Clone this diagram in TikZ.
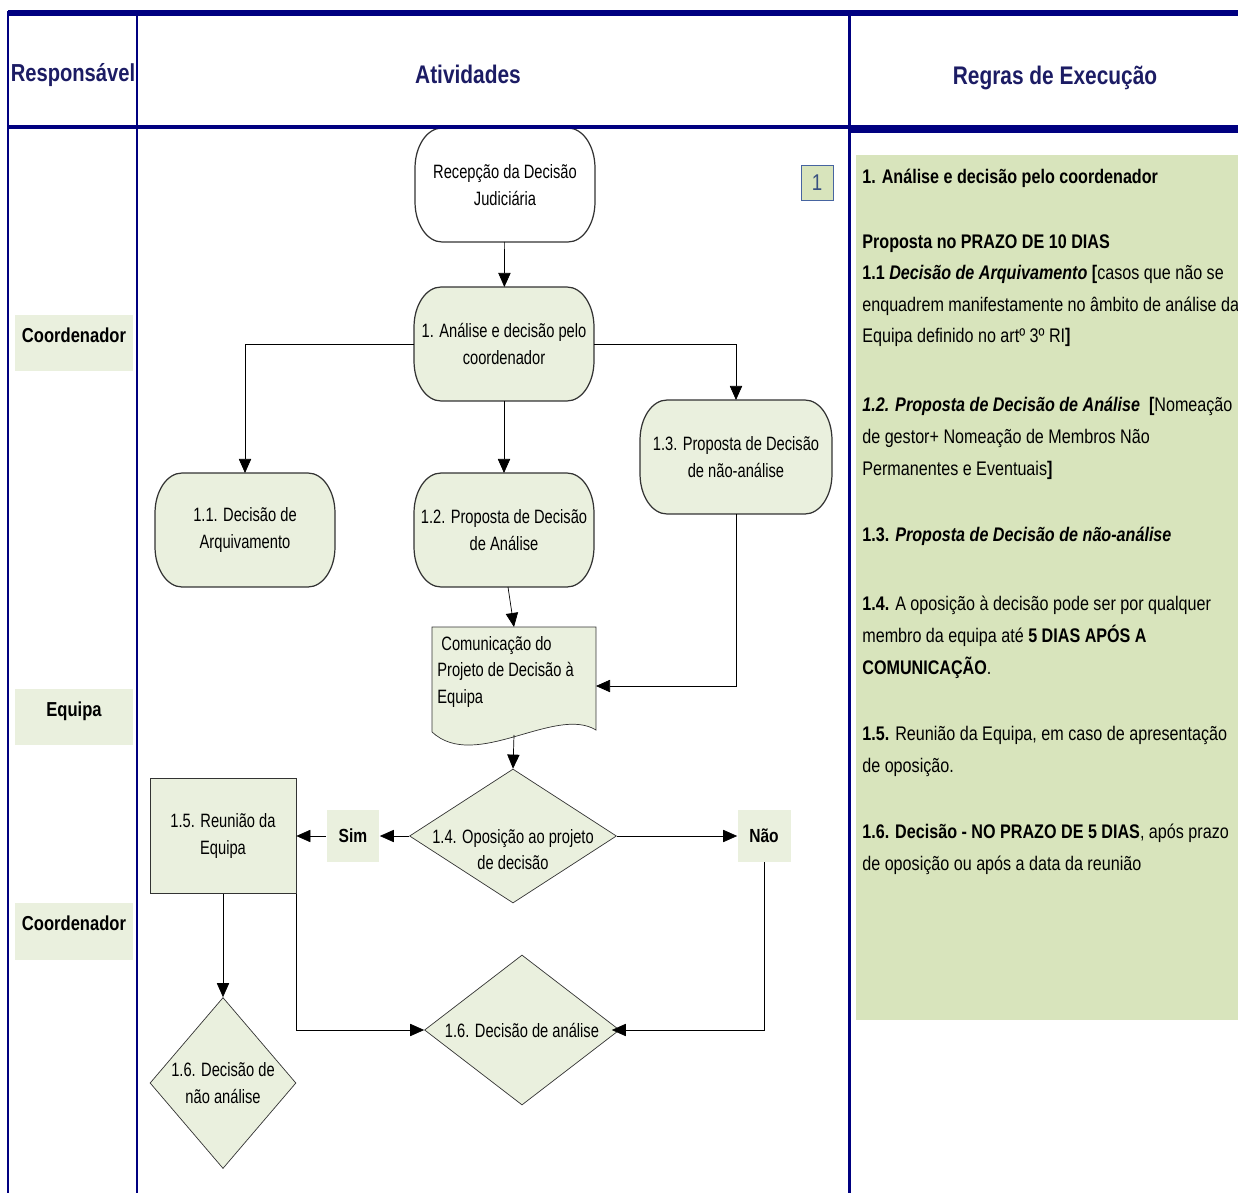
\documentclass[tikz,border=0pt]{standalone}
\usepackage{fontspec}
\setmainfont{Liberation Sans}[FakeStretch=0.82]
\newfontfamily\narrowfont{Liberation Sans}[FakeStretch=0.76]
\usepackage{tikz}
\usetikzlibrary{arrows.meta,shapes,shapes.geometric,backgrounds}
\usepackage{xcolor}
\definecolor{navy}{RGB}{0,0,128}
\definecolor{headtext}{RGB}{28,28,100}
\definecolor{nodegreen}{RGB}{234,240,222}
\definecolor{panelgreen}{RGB}{216,228,188}
\definecolor{boxblue}{RGB}{70,100,160}
\newcommand{\termshape}[2]{%
  \begin{pgfonlayer}{background}
  \draw[draw=black!80, fill=#2, line width=0.7pt] ([xshift=0.54cm]#1.north west) -- ([xshift=-0.54cm]#1.north east)
    arc[start angle=90, end angle=0, x radius=0.54cm, y radius=0.8cm] -- ([yshift=0.8cm]#1.south east)
    arc[start angle=0, end angle=-90, x radius=0.54cm, y radius=0.8cm] -- ([xshift=0.54cm]#1.south west)
    arc[start angle=270, end angle=180, x radius=0.54cm, y radius=0.8cm] -- ([yshift=-0.8cm]#1.north west)
    arc[start angle=180, end angle=90, x radius=0.54cm, y radius=0.8cm] -- cycle;
  \end{pgfonlayer}}

\begin{document}
\begin{tikzpicture}[x=0.02cm, y=-0.02cm, >={Triangle[length=8pt,width=7pt]}, line width=0.7pt,
  every node/.style={font=\narrowfont\fontsize{11}{15}\selectfont},
  term node/.style={rectangle, minimum width=3.6cm, minimum height=2.28cm, inner sep=1pt, outer sep=0pt, align=center},
  dec node/.style={diamond, draw=black!80, fill=nodegreen, inner sep=0pt},
  lane/.style={fill=nodegreen, minimum width=2.36cm, minimum height=1.14cm, text height=0.3cm, text depth=0.34cm, font=\fontsize{11.5}{13}\selectfont\bfseries},
  answer/.style={fill=nodegreen, minimum width=1.06cm, minimum height=1.04cm, font=\fontsize{10.8}{13}\selectfont\bfseries},
  head/.style={text=headtext, font=\fontsize{14.5}{16}\selectfont\bfseries},
  rule/.style={anchor=north west, align=left, inner sep=0pt, font=\fontsize{11.2}{18}\selectfont}]
\useasboundingbox (0,0) rectangle (1238,1193);
\fill[panelgreen] (856,155) rectangle (1238,1020);
\draw[navy, line width=3.2pt] (8,13) -- (1238,13);
\draw[navy, line width=2.8pt] (8,127) -- (849,127);
\draw[navy, line width=4.5pt] (849,129) -- (1238,129);
\draw[navy, line width=1.5pt] (8,11) -- (8,1193);
\draw[navy, line width=0.8pt] (137,13) -- (137,1193);
\draw[navy, line width=1.7pt] (849,11) -- (849,1193);
\node[head, font=\fontsize{14}{16}\selectfont\bfseries] (hresp) at (73,75) {Responsável};
\node[head] (hativ) at (468,74) {Atividades};
\node[head] (hregr) at (1055,78) {Regras de Execução};
\node[lane] (coord1) at (74,343) {Coordenador};
\node[lane] (equipa) at (74,717) {Equipa};
\node[lane] (coord2) at (74,931) {Coordenador};
\node[term node] (rec) at (505,185) {Recepção da Decisão\\Judiciária};
\termshape{rec}{white}
\node[term node] (a1) at (504,344) {1. Análise e decisão pelo\\coordenador};
\termshape{a1}{nodegreen}
\node[term node] (a11) at (245,530) {1.1. Decisão de\\Arquivamento};
\termshape{a11}{nodegreen}
\node[term node] (a12) at (504,530) {1.2. Proposta de Decisão\\de Análise};
\termshape{a12}{nodegreen}
\node[term node, minimum width=3.84cm] (a13) at (736,457) {1.3. Proposta de Decisão\\de não-análise};
\termshape{a13}{nodegreen}
\node[rectangle, minimum width=3.28cm, minimum height=2.36cm, outer sep=0pt] (com) at (514,686) {};
\draw[draw=black!80, fill=nodegreen] (com.north west) -- (com.north east) -- ([yshift=0.3cm]com.south east)
  .. controls +(-41,-25) and +(43,40) .. ([yshift=0.26cm]com.south west) -- cycle;
\node[anchor=north west, align=left, inner sep=0pt] (comtxt) at ([shift={(5,9)}]com.north west) {\ Comunicação do\\Projeto de Decisão à\\Equipa};
\node[dec node, minimum width=4.14cm, minimum height=2.68cm] (d14) at (513,836) {};
\node[align=center] (t14) at ([yshift=-0.27cm]d14) {1.4. Oposição ao projeto\\de decisão};
\node[answer] (sim) at (353,836) {Sim};
\node[answer] (nao) at (764,836) {Não};
\node[draw=black!80, fill=nodegreen, minimum width=2.92cm, minimum height=2.3cm, align=center] (r15) at (223,836) {1.5. Reunião da\\Equipa};
\node[dec node, minimum width=3.9cm, minimum height=3.0cm] (d16a) at (522,1030) {};
\node (t16a) at (d16a) {1.6. Decisão de análise};
\node[dec node, minimum width=2.92cm, minimum height=3.42cm] (d16n) at (223,1083) {};
\node[align=center] (t16n) at (d16n) {1.6. Decisão de\\não análise};
\node[draw=boxblue, fill=panelgreen, minimum width=0.64cm, minimum height=0.7cm, text=boxblue!80!black, font=\fontsize{13}{15}\selectfont] (n1) at (817,183) {1};
\draw[->] (rec) -- (a1);
\draw[->] (a1.west) -| (a11.north);
\draw[->] (a1) -- (a12);
\draw[->] (a1.east) -| (a13.north);
\draw[->] ([xshift=0.08cm]a12.south) -- (com.north);
\draw[->] (a13.south) |- (com.east);
\draw[->] ([yshift=0.2cm]com.south) -- (d14.north);
\draw[->] (d14.west) -- (sim.east);
\draw[->] (sim.west) -- (r15.east);
\draw[->] (d14.east) -- (nao.west);
\draw[->] (nao.south) |- ([xshift=-0.16cm]d16a.east);
\draw[->] (r15.south) -- (d16n.north);
\draw[->] (r15.south east) |- (d16a.west);
\node[rule] (p1) at (862,169) {\textbf{1. Análise e decisão pelo coordenador}};
\node[rule] (p2) at (862,234) {\textbf{Proposta no PRAZO DE 10 DIAS}\\
\textbf{1.1 \textit{Decisão de Arquivamento} [}casos que não se\\
enquadrem manifestamente no âmbito de análise da\\
Equipa definido no artº 3º RI\textbf{]}};
\node[rule] (p3) at (862,397) {\textbf{\textit{1.2. Proposta de Decisão de Análise}}\ \ \textbf{[}Nomeação\\
de gestor+ Nomeação de Membros Não\\
Permanentes e Eventuais\textbf{]}};
\node[rule] (p4) at (862,527) {\textbf{1.3. \textit{Proposta de Decisão de não-análise}}};
\node[rule] (p5) at (862,596) {\textbf{1.4.} A oposição à decisão pode ser por qualquer\\
membro da equipa até \textbf{5 DIAS APÓS A}\\
\textbf{COMUNICAÇÃO}.};
\node[rule] (p6) at (862,726) {\textbf{1.5.} Reunião da Equipa, em caso de apresentação\\
de oposição.};
\node[rule] (p7) at (862,824) {\textbf{1.6. Decisão - NO PRAZO DE 5 DIAS}, após prazo\\
de oposição ou após a data da reunião};
\end{tikzpicture}
\end{document}
